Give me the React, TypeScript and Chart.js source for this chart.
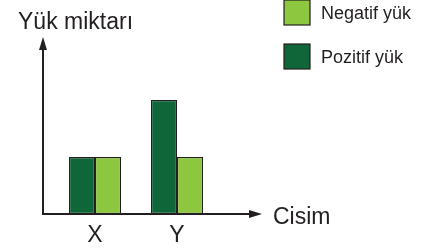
import React, { useEffect, useRef } from "react";
import { Chart, registerables } from "chart.js";

Chart.register(...registerables);

const categories = ["X", "Y"];
const pozitif = [2, 4];
const negatif = [2, 2];
const seriesNames = ["Pozitif yük", "Negatif yük"];
const yTitle = "Yük miktarı";
const xTitle = "Cisim";

const DARK = "#0F6638";
const LIGHT = "#8DC63F";
const INK = "#231F20";

const axesPlugin = {
  id: "arrowAxes",
  afterDraw(chart: any) {
    const ctx = chart.ctx;
    const xs = chart.scales.x;
    const ys = chart.scales.y;
    const x0 = 43;
    const y0 = ys.getPixelForValue(0);
    ctx.save();
    ctx.strokeStyle = INK;
    ctx.fillStyle = INK;
    ctx.lineWidth = 2;
    // y axis
    ctx.beginPath();
    ctx.moveTo(x0, y0 + 1);
    ctx.lineTo(x0, 48);
    ctx.stroke();
    ctx.beginPath();
    ctx.moveTo(x0, 37);
    ctx.lineTo(x0 - 4, 50);
    ctx.lineTo(x0 + 4, 50);
    ctx.closePath();
    ctx.fill();
    // x axis
    ctx.beginPath();
    ctx.moveTo(x0 - 1, y0);
    ctx.lineTo(252, y0);
    ctx.stroke();
    ctx.beginPath();
    ctx.moveTo(262, y0);
    ctx.lineTo(249, y0 - 4);
    ctx.lineTo(249, y0 + 4);
    ctx.closePath();
    ctx.fill();

    // texts
    ctx.font = "23px 'Liberation Sans', Arial, sans-serif";
    ctx.textBaseline = "alphabetic";
    ctx.textAlign = "left";
    ctx.fillText(yTitle, 18, 29);
    ctx.fillText(xTitle, 273, 224);
    ctx.textAlign = "center";
    chart.data.labels.forEach((lab: string, i: number) => {
      ctx.fillText(lab, xs.getPixelForValue(i), 242);
    });

    // legend (reversed order)
    ctx.font = "18px 'Liberation Sans', Arial, sans-serif";
    ctx.textAlign = "left";
    const ds = chart.data.datasets.slice().reverse();
    ds.forEach((d: any, i: number) => {
      const top = 0 + i * 44;
      ctx.fillStyle = d.backgroundColor;
      ctx.fillRect(284, top, 26, 25);
      ctx.lineWidth = 1.2;
      ctx.strokeStyle = INK;
      ctx.strokeRect(284, top, 26, 25);
      ctx.fillStyle = INK;
      ctx.fillText(d.label, 321, top + 19);
    });
    ctx.restore();
  },
};

export default function App() {
  const ref = useRef<HTMLCanvasElement | null>(null);
  useEffect(() => {
    if (!ref.current) return;
    const chart = new Chart(ref.current, {
      type: "bar",
      data: {
        labels: categories,
        datasets: [
          {
            label: seriesNames[0],
            data: pozitif,
            backgroundColor: DARK,
            borderColor: INK,
            borderWidth: 1.2,
            borderSkipped: false,
          },
          {
            label: seriesNames[1],
            data: negatif,
            backgroundColor: LIGHT,
            borderColor: INK,
            borderWidth: 1.2,
            borderSkipped: false,
          },
        ],
      },
      options: {
        responsive: false,
        animation: false,
        events: [],
        layout: { padding: { left: 54, right: 206, top: 43, bottom: 37 } },
        datasets: { bar: { categoryPercentage: 52 / 82, barPercentage: 1 } },
        plugins: { legend: { display: false }, tooltip: { enabled: false }, title: { display: false } },
        scales: {
          x: {
            display: false,
            grid: { display: false },
          },
          y: {
            display: false,
            min: 0,
            max: 6,
            grid: { display: false },
          },
        },
      },
      plugins: [axesPlugin],
    });
    return () => chart.destroy();
  }, []);
  return (
    <div style={{ position: "fixed", left: 0, top: 0, width: 424, height: 251, background: "#fff" }}>
      <canvas ref={ref} width={424} height={251} style={{ display: "block" }} />
    </div>
  );
}
